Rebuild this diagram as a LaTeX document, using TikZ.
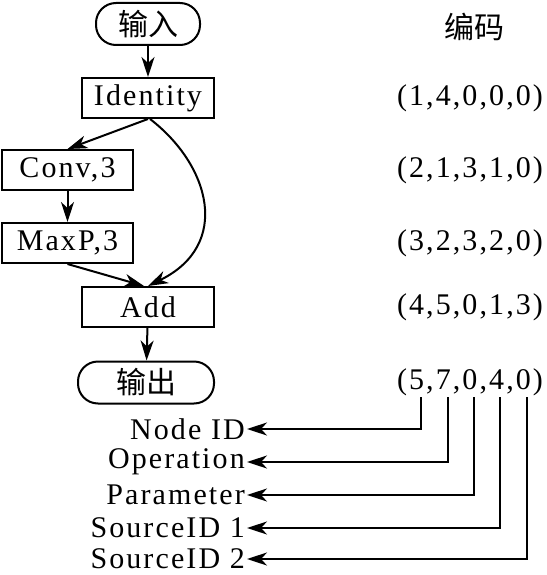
\documentclass[tikz,border=0pt]{standalone}
\usepackage{fontspec}
\setmainfont[LetterSpace=7]{Liberation Serif}
\newfontfamily\cjk{Noto Sans CJK SC}
\usetikzlibrary{arrows.meta}
\begin{document}
\begin{tikzpicture}[x=1pt,y=-1pt,
  every node/.style={font=\fontsize{30}{34}\selectfont, inner sep=2pt},
  box/.style={draw, line width=2pt, minimum width=131pt, minimum height=40pt, inner sep=0pt},
  term/.style={draw, line width=2pt, rounded corners=20pt, minimum height=42pt, inner sep=0pt, font=\fontsize{30}{34}\selectfont\cjk},
  arr/.style={line width=2pt, -{Stealth[length=20pt,width=13pt,inset=6pt]}},
  lbl/.style={anchor=east}
]
\useasboundingbox (0,0) rectangle (546,575);
% flow chart
\node[term, minimum width=104pt] (in) at (148,24) {输入};
\node[box, minimum width=132pt] (id) at (148,98) {Identity};
\node[box] (conv) at (67.5,170) {Conv,3};
\node[box] (maxp) at (67.5,243) {MaxP,3};
\node[box, minimum width=132pt] (add) at (148,307) {Add};
\node[term, minimum width=136pt] (out) at (146,382.5) {输出};
\draw[arr] (in) -- (id);
\draw[arr] (id.south) -- (conv.north);
\draw[arr] (conv) -- (maxp);
\draw[arr] (maxp.south) -- ([xshift=-4pt]add.north);
\draw[arr] ([xshift=2pt]id.south) .. controls (210,165) and (232,245) .. ([xshift=0pt]add.north);
\draw[arr] (add) -- (out);
% codes
\node[font=\fontsize{30}{34}\selectfont\cjk] (code) at (474,27) {编码};
\node (t1) at (470,98) {(1,4,0,0,0)};
\node (t2) at (470,170) {(2,1,3,1,0)};
\node (t3) at (470,243) {(3,2,3,2,0)};
\node (t4) at (470,307) {(4,5,0,1,3)};
\node (t5) at (470,382) {(5,7,0,4,0)};
% digit anchors
\coordinate (d1) at (421,397);
\coordinate (d2) at (447.5,397);
\coordinate (d3) at (473.5,397);
\coordinate (d4) at (500,397);
\coordinate (d5) at (526.5,397);
% labels
\node[lbl] (l1) at (247,429) {Node ID};
\node[lbl] (l2) at (247,462) {Operation};
\node[lbl] (l3) at (247,495) {Parameter};
\node[lbl] (l4) at (247,528) {SourceID 1};
\node[lbl] (l5) at (247,559) {SourceID 2};
\draw[arr] (d1) |- (l1.east);
\draw[arr] (d2) |- (l2.east);
\draw[arr] (d3) |- (l3.east);
\draw[arr] (d4) |- (l4.east);
\draw[arr] (d5) |- (l5.east);
\end{tikzpicture}
\end{document}
